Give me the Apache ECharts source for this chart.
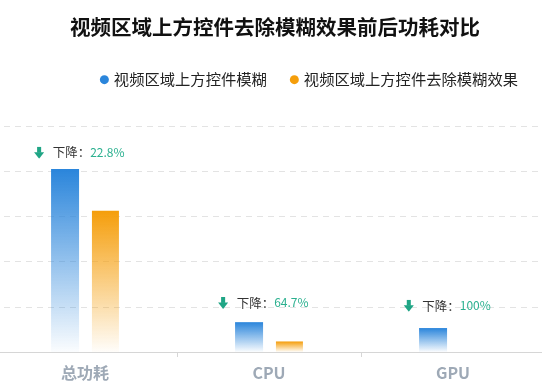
<!DOCTYPE html>
<html><head><meta charset="utf-8">
<script src="https://cdn.jsdelivr.net/npm/echarts@6/dist/echarts.min.js"></script>
<style>html,body{margin:0;padding:0;background:#fff}#c{width:542px;height:392px}</style>
</head><body><div id="c"></div>
<script>
var categories = ['总功耗', 'CPU', 'GPU'];
var seriesNames = ['视频区域上方控件模糊', '视频区域上方控件去除模糊效果'];
var before = [405, 66, 53];
var after = [312.7, 23.3, 0];
var dropLabels = ['22.8%', '64.7%', '100%'];

var arrowSvg = 'data:image/svg+xml;utf8,' + encodeURIComponent(
  '<svg xmlns="http://www.w3.org/2000/svg" width="12" height="12" viewBox="0 0 12 12">' +
  '<rect x="3.8" y="0" width="4.4" height="6" fill="#1fa585"/>' +
  '<polygon points="0.5,5.5 11.5,5.5 6,12" fill="#1fa585"/></svg>');

var labelDist = [10, 13, 16];
var chart = echarts.init(document.getElementById('c'));
chart.setOption({
  animation: false,
  title: {
    text: '视频区域上方控件去除模糊效果前后功耗对比',
    left: 65, top: 12,
    textStyle: { fontSize: 20.5, fontWeight: 'bold', color: '#111', fontFamily: 'Noto Sans CJK SC' }
  },
  legend: {
    right: 19, top: 67,
    icon: 'circle', itemWidth: 9, itemHeight: 9, itemGap: 23,
    textStyle: { fontSize: 15.3, color: '#222', fontFamily: 'Noto Sans CJK SC' },
    data: [
      { name: seriesNames[0], itemStyle: { color: '#2a85db' } },
      { name: seriesNames[1], itemStyle: { color: '#f59e0b' } }
    ]
  },
  grid: { left: -7, right: -3, top: 126, bottom: 40, outerBoundsMode: 'none', containLabel: false },
  xAxis: {
    type: 'category', data: categories,
    axisLine: { lineStyle: { color: '#d6d6d6' } },
    axisTick: { show: true, length: 5, lineStyle: { color: '#d6d6d6' } },
    axisLabel: { fontSize: 16, fontWeight: 'bold', color: '#9ea9b6', margin: 13, fontFamily: 'Noto Sans CJK SC' }
  },
  yAxis: {
    type: 'value', min: 0, max: 500, interval: 100,
    axisLabel: { show: false },
    axisLine: { show: false }, axisTick: { show: false },
    splitLine: { lineStyle: { type: [6, 5], color: '#e3e3e3' } }
  },
  series: [
    {
      name: seriesNames[0], type: 'bar', barWidth: 28, barGap: '46%',
      itemStyle: { color: new echarts.graphic.LinearGradient(0, 0, 0, 1, [
        { offset: 0, color: '#2a85db' }, { offset: 1, color: 'rgba(42,133,219,0.02)' }]) },
      data: before.map(function (v, i) {
        return {
          value: v,
          label: {
            show: true, position: 'top', distance: labelDist[i], offset: [14, 0],
            formatter: '{a|}{t|下降：}{v|' + dropLabels[i] + '}',
            rich: {
              a: { width: 11, height: 12, backgroundColor: { image: arrowSvg } },
              t: { fontSize: 12.5, color: '#333', padding: [0, 0, 0, 8], fontFamily: 'Noto Sans CJK SC' },
              v: { fontSize: 12, color: '#2bb08f', fontFamily: 'Noto Sans CJK SC' }
            }
          }
        };
      })
    },
    {
      name: seriesNames[1], type: 'bar', barWidth: 27,
      itemStyle: { color: new echarts.graphic.LinearGradient(0, 0, 0, 1, [
        { offset: 0, color: '#f59e0b' }, { offset: 1, color: 'rgba(245,158,11,0.02)' }]) },
      data: after
    }
  ]
});
</script></body></html>
